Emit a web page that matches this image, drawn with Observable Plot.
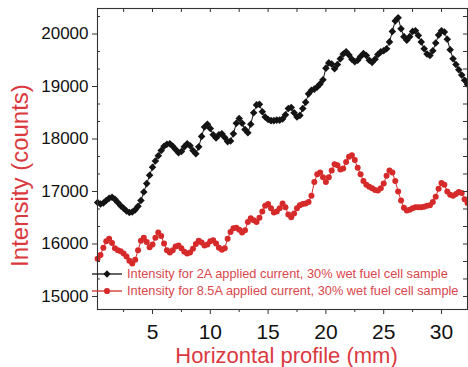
<!DOCTYPE html>
<html>
<head>
<meta charset="utf-8">
<script src="https://cdn.jsdelivr.net/npm/d3@7"></script>
<script src="https://cdn.jsdelivr.net/npm/@observablehq/plot@0.6"></script>
<style>
  body { margin: 0; background: #fff; }
  #chart { width: 468px; height: 367px; }
</style>
</head>
<body>
<div id="chart"></div>
<script>
// Horizontal position along the sample (mm)
const profileMm = [
  0.25, 0.5, 0.75, 1, 1.25, 1.5, 1.75, 2,
  2.25, 2.5, 2.75, 3, 3.25, 3.5, 3.75, 4,
  4.25, 4.5, 4.75, 5, 5.25, 5.5, 5.75, 6,
  6.25, 6.5, 6.75, 7, 7.25, 7.5, 7.75, 8,
  8.25, 8.5, 8.75, 9, 9.25, 9.5, 9.75, 10,
  10.25, 10.5, 10.75, 11, 11.25, 11.5, 11.75, 12,
  12.25, 12.5, 12.75, 13, 13.25, 13.5, 13.75, 14,
  14.25, 14.5, 14.75, 15, 15.25, 15.5, 15.75, 16,
  16.25, 16.5, 16.75, 17, 17.25, 17.5, 17.75, 18,
  18.25, 18.5, 18.75, 19, 19.25, 19.5, 19.75, 20,
  20.25, 20.5, 20.75, 21, 21.25, 21.5, 21.75, 22,
  22.25, 22.5, 22.75, 23, 23.25, 23.5, 23.75, 24,
  24.25, 24.5, 24.75, 25, 25.25, 25.5, 25.75, 26,
  26.25, 26.5, 26.75, 27, 27.25, 27.5, 27.75, 28,
  28.25, 28.5, 28.75, 29, 29.25, 29.5, 29.75, 30,
  30.25, 30.5, 30.75, 31, 31.25, 31.5, 31.75, 32,
  32.25
];

// Intensity (counts), 2A applied current
const intensity2A = [
  16790, 16760, 16780, 16830, 16870, 16890, 16850, 16790,
  16730, 16680, 16630, 16600, 16610, 16650, 16720, 16830,
  16990, 17150, 17310, 17460, 17580, 17680, 17780, 17860,
  17900, 17910, 17860, 17800, 17740, 17760, 17850, 17910,
  17870, 17780, 17720, 17850, 18050, 18230, 18280, 18200,
  18080, 18020, 18080, 18100, 18030, 17950, 17960, 18100,
  18300, 18390, 18300, 18180, 18120, 18280, 18500, 18650,
  18660, 18520, 18420, 18370, 18350, 18350, 18360, 18360,
  18380, 18460, 18580, 18600, 18500, 18420, 18450, 18580,
  18700, 18860, 18930, 18950, 18990, 19050, 19130, 19350,
  19450, 19430, 19340, 19420, 19530, 19620, 19660, 19600,
  19520, 19470, 19500, 19570, 19630, 19590, 19500, 19460,
  19520, 19610, 19660, 19680, 19720, 19850, 20050, 20250,
  20310, 20100, 19950, 19880, 19950, 20050, 20060, 19970,
  19850, 19720, 19620, 19590, 19680, 19830, 19980, 20060,
  20040, 19900, 19700, 19530, 19420, 19320, 19220, 19120,
  19040
];

// Intensity (counts), 8.5A applied current
const intensity85A = [
  15720, 15790, 15930, 16050, 16100, 16020, 15920, 15880,
  15860, 15820, 15760, 15680, 15630, 15700, 15880, 16060,
  16120, 16040, 15940, 15990, 16120, 16220, 16150, 16010,
  15880, 15840, 15880, 15950, 15970, 15920, 15850, 15820,
  15840, 15910, 16000, 16060, 16030, 15970, 15990, 16050,
  16070, 16010, 15930, 15890, 15920, 16100, 16230, 16300,
  16310, 16270, 16220, 16260, 16420, 16490, 16450, 16420,
  16500, 16620, 16730, 16760, 16680, 16600, 16620, 16680,
  16770, 16700, 16560, 16510, 16580, 16680, 16740, 16760,
  16770, 16800, 16920, 17180, 17330, 17360, 17270, 17180,
  17270, 17400, 17520, 17500, 17420, 17440, 17560, 17660,
  17690, 17600, 17450, 17330, 17200, 17130, 17090, 17060,
  17030, 17020, 17060, 17150, 17300, 17400, 17360, 17200,
  17000, 16830, 16690, 16640, 16650, 16680, 16700, 16700,
  16700, 16710, 16730, 16740, 16800, 16900, 17050, 17160,
  17130, 17000, 16940, 16920, 16950, 16990, 16970, 16850,
  16780
];

const xTicks = [5, 10, 15, 20, 25, 30];
const xMinorTicks = [2.5, 7.5, 12.5, 17.5, 22.5, 27.5];
const yTicks = [15000, 16000, 17000, 18000, 19000, 20000];
const seriesLabels = [
  "Intensity for 2A applied current, 30% wet fuel cell sample",
  "Intensity for 8.5A applied current, 30% wet fuel cell sample"
];
const xTitle = "Horizontal profile (mm)";
const yTitle = "Intensity (counts)";

const BLACK = "#141414";
const RED = "#d62a2a";
const TITLE_RED = "#da3a3f";
const LEGEND_RED = "#d9464d";
const AXIS = "#333";

const W = 468, H = 367;
const mL = 97, mR = 1, mT = 8, mB = 58;
const fw = W - mL - mR, fh = H - mT - mB;

const rows2A = profileMm.map((x, i) => ({x, y: intensity2A[i]}));
const rows85A = profileMm.map((x, i) => ({x, y: intensity85A[i]}));

// minor ticks: two between each labelled intensity tick
const yMinorTicks = d3.range(14, 21).flatMap(k => [k * 1000 + 1000 / 3, k * 1000 + 2000 / 3])
  .filter(v => v > 14752 && v < 20486);
const yAllTicks = yTicks.concat(yMinorTicks);
const xAllTicks = xTicks.concat(xMinorTicks);

const plot = Plot.plot({
  width: W,
  height: H,
  marginLeft: mL,
  marginRight: mR,
  marginTop: mT,
  marginBottom: mB,
  style: {fontFamily: "'Liberation Sans', Arial, sans-serif", background: "#fff", color: "#111", overflow: "visible"},
  x: {domain: [0.242, 32.25]},
  y: {domain: [14752, 20486]},
  marks: [
    // data series: thin connecting line under dense markers
    Plot.line(rows2A, {x: "x", y: "y", stroke: BLACK, strokeWidth: 1}),
    Plot.dot(rows2A, {x: "x", y: "y", symbol: "diamond2", r: 3.4, fill: BLACK, stroke: "none"}),
    Plot.line(rows85A, {x: "x", y: "y", stroke: RED, strokeWidth: 1}),
    Plot.dot(rows85A, {x: "x", y: "y", r: 3.0, fill: RED, stroke: "none"}),

    Plot.frame({stroke: AXIS, strokeWidth: 1.1}),

    // bottom axis: labelled ticks and minor ticks, pointing out
    Plot.axisX(xTicks, {tickSize: 5, tickPadding: 10, fontSize: 21, label: null, stroke: AXIS, fill: "#111", tickFormat: d3.format("d")}),
    Plot.axisX(xMinorTicks, {tickSize: 3, tickFormat: () => "", label: null, stroke: AXIS}),
    // top ticks pointing in
    Plot.tickX(xAllTicks, {x: d => d, insetBottom: fh - 4, stroke: AXIS}),

    // left axis: labelled ticks out, minor ticks in
    Plot.axisY(yTicks, {tickSize: 5, tickPadding: 4, fontSize: 17, label: null, stroke: AXIS, fill: "#111", tickFormat: d3.format("d")}),
    Plot.tickY(yMinorTicks, {y: d => d, insetRight: fw - 3, stroke: AXIS}),
    // right ticks pointing in
    Plot.tickY(yAllTicks, {y: d => d, insetLeft: fw - 4, stroke: AXIS}),

    // axis titles
    Plot.text([xTitle], {text: d => d, frameAnchor: "bottom", textAnchor: "middle", dx: 4, dy: 46, fontSize: 22, fill: TITLE_RED, lineAnchor: "middle"}),
    Plot.text([yTitle], {text: d => d, frameAnchor: "left", textAnchor: "middle", rotate: -90, dx: -77.5, dy: 16.5, fontSize: 24, fill: TITLE_RED, lineAnchor: "middle"})
  ]
});

// legend in the lower-left corner of the frame
const svg = d3.select(plot);
const legend = svg.append("g")
  .attr("font-family", "'Liberation Sans', Arial, sans-serif")
  .attr("font-size", 12.8)
  .attr("text-anchor", "start");
const legendRows = [
  {label: seriesLabels[0], color: BLACK, symbol: d3.symbolDiamond2, size: 34, y: mT + fh - 35},
  {label: seriesLabels[1], color: RED, symbol: d3.symbolCircle, size: 30, y: mT + fh - 18}
];
legendRows.forEach(row => {
  legend.append("line")
    .attr("x1", mL - 5).attr("x2", mL + 25)
    .attr("y1", row.y).attr("y2", row.y)
    .attr("stroke", row.color).attr("stroke-width", 1.3);
  legend.append("path")
    .attr("d", d3.symbol(row.symbol, row.size)())
    .attr("transform", `translate(${mL + 10},${row.y})`)
    .attr("fill", row.color);
  legend.append("text")
    .attr("x", mL + 30).attr("y", row.y).attr("dy", "0.35em")
    .attr("text-anchor", "start")
    .attr("fill", LEGEND_RED)
    .text(row.label);
});

document.getElementById("chart").appendChild(plot);
</script>
</body>
</html>
